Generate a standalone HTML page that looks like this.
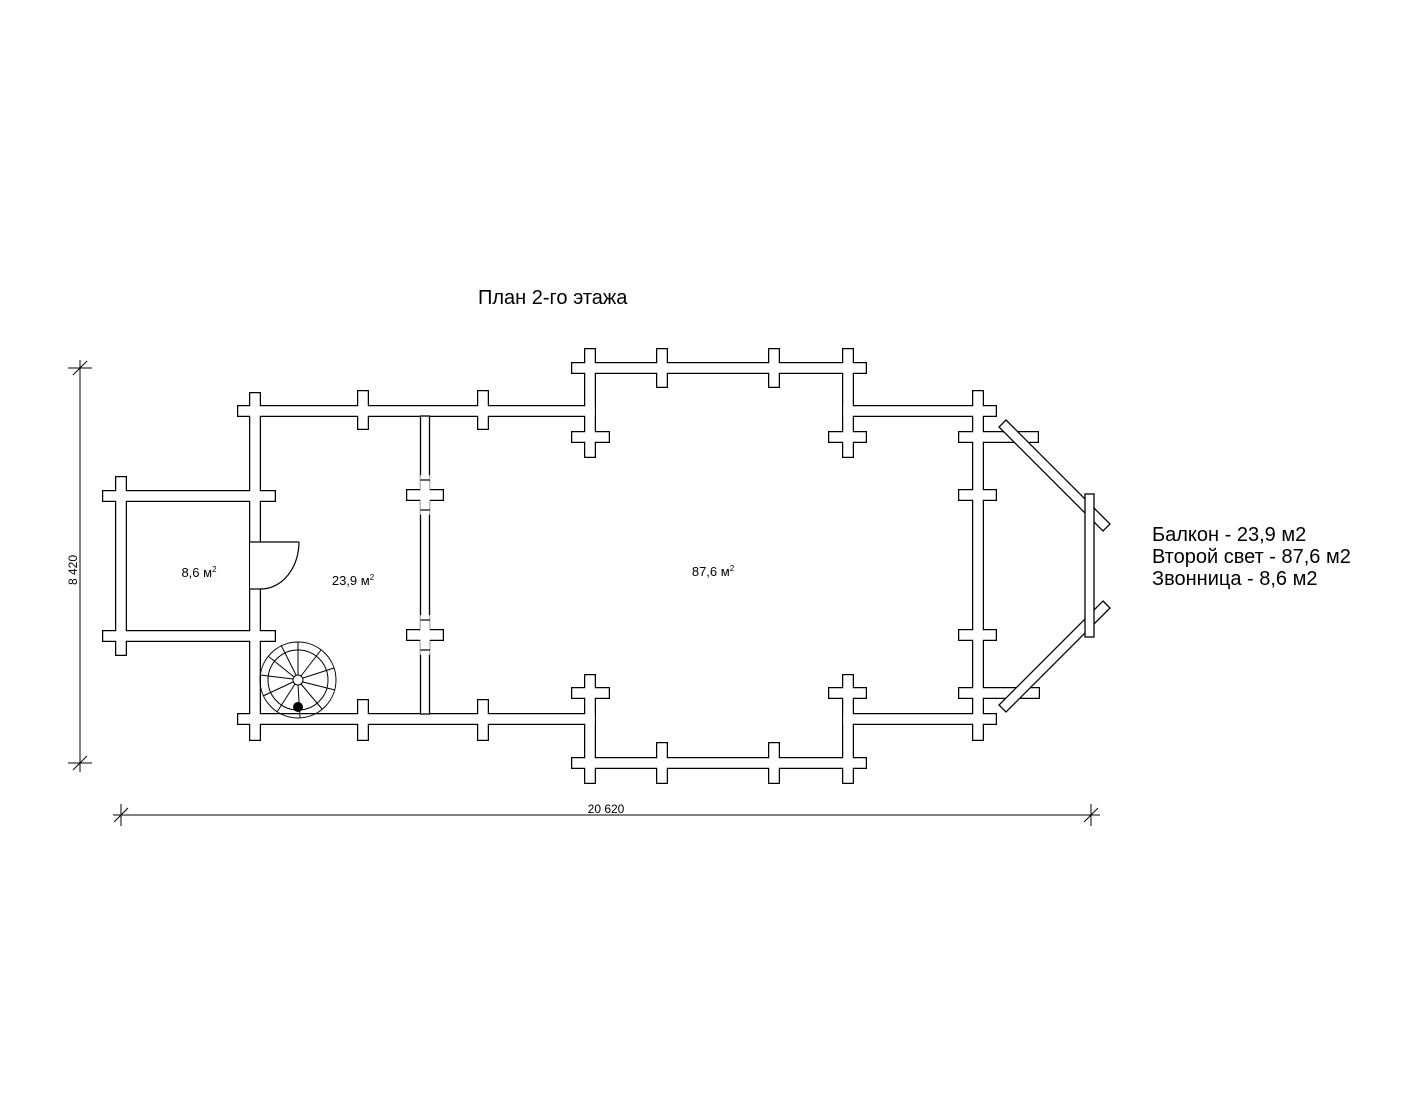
<!DOCTYPE html>
<html><head><meta charset="utf-8"><style>
html,body{margin:0;padding:0;background:#fff;}
svg{display:block;}
text{font-family:"Liberation Sans",sans-serif;fill:#000;}
</style></head><body>
<svg width="1422" height="1100" viewBox="0 0 1422 1100">
<defs>
<g id="walls">
 <line x1="243" y1="411" x2="590" y2="411"/>
 <line x1="243" y1="719" x2="590" y2="719"/>
 <line x1="255" y1="398" x2="255" y2="735"/>
 <line x1="363" y1="396" x2="363" y2="424"/>
 <line x1="483" y1="396" x2="483" y2="424"/>
 <line x1="363" y1="705" x2="363" y2="735"/>
 <line x1="483" y1="705" x2="483" y2="735"/>
 <line x1="108" y1="496" x2="270" y2="496"/>
 <line x1="108" y1="636" x2="270" y2="636"/>
 <line x1="121" y1="482" x2="121" y2="650"/>
 <line x1="577" y1="368" x2="861" y2="368"/>
 <line x1="590" y1="354" x2="590" y2="452"/>
 <line x1="848" y1="354" x2="848" y2="452"/>
 <line x1="662" y1="354" x2="662" y2="382"/>
 <line x1="774" y1="354" x2="774" y2="382"/>
 <line x1="577" y1="437" x2="604" y2="437"/>
 <line x1="834" y1="437" x2="861" y2="437"/>
 <line x1="577" y1="763" x2="861" y2="763"/>
 <line x1="590" y1="680" x2="590" y2="778"/>
 <line x1="848" y1="680" x2="848" y2="778"/>
 <line x1="662" y1="748" x2="662" y2="778"/>
 <line x1="774" y1="748" x2="774" y2="778"/>
 <line x1="577" y1="693" x2="604" y2="693"/>
 <line x1="834" y1="693" x2="861" y2="693"/>
 <line x1="848" y1="411" x2="991" y2="411"/>
 <line x1="848" y1="719" x2="991" y2="719"/>
 <line x1="978" y1="396" x2="978" y2="735"/>
 <line x1="964" y1="437" x2="1033" y2="437"/>
 <line x1="964" y1="495" x2="991" y2="495"/>
 <line x1="964" y1="635" x2="991" y2="635"/>
 <line x1="964" y1="693" x2="1034" y2="693"/>
</g>
</defs>
<g stroke="#000" stroke-width="12" stroke-linecap="square"><use href="#walls"/></g>
<g stroke="#fff" stroke-width="9.5" stroke-linecap="square"><use href="#walls"/></g>
<rect x="420.5" y="416" width="9" height="298" fill="#fff" stroke="#000" stroke-width="1.3"/>
<g stroke="#000" stroke-width="12" stroke-linecap="square"><line x1="412" y1="495" x2="438" y2="495"/><line x1="412" y1="635" x2="438" y2="635"/></g>
<g stroke="#fff" stroke-width="9.5" stroke-linecap="square"><line x1="412" y1="495" x2="438" y2="495"/><line x1="412" y1="635" x2="438" y2="635"/><line x1="425" y1="480" x2="425" y2="510"/><line x1="425" y1="620" x2="425" y2="650"/></g>
<g stroke="#000" stroke-width="1.2"><line x1="420.5" y1="480" x2="430" y2="480"/><line x1="420.5" y1="510" x2="430" y2="510"/><line x1="420.5" y1="620" x2="430" y2="620"/><line x1="420.5" y1="650" x2="430" y2="650"/></g>
<g fill="#fff" stroke="#000" stroke-width="1.3">
 <polygon points="1006,420 1110,524 1103,531 999,427" />
 <polygon points="1103,601 1110,608 1006,712 999,705" />
 <rect x="1085" y="494" width="9" height="143"/>
</g>
<rect x="250" y="542" width="12" height="47" fill="#fff"/>
<g fill="none" stroke="#000" stroke-width="1.2">
 <line x1="249" y1="542" x2="299" y2="542"/>
 <line x1="249" y1="589" x2="262" y2="589"/>
 <path d="M299,542 A38,47 0 0 1 261,589"/>
</g>
<g fill="none" stroke="#000" stroke-width="1">
 <circle cx="298" cy="680" r="38"/>
 <circle cx="298" cy="680" r="30"/>
 <circle cx="298" cy="680" r="5" fill="#fff"/>
 <line x1="298" y1="642" x2="298" y2="675"/>
 <line x1="321" y1="650" x2="301" y2="676"/>
 <line x1="334" y1="668" x2="303" y2="678"/>
 <line x1="335" y1="690" x2="303" y2="682"/>
 <line x1="322" y1="709" x2="301" y2="684"/>
 <line x1="300" y1="718" x2="298" y2="685"/>
 <line x1="277" y1="712" x2="295" y2="684"/>
 <line x1="263" y1="696" x2="293" y2="682"/>
 <line x1="260" y1="675" x2="293" y2="679"/>
 <line x1="268" y1="656" x2="294" y2="677"/>
 <line x1="281" y1="645" x2="296" y2="675"/>
</g>
<circle cx="298" cy="707" r="5" fill="#000"/>
<text x="199" y="577" font-size="13" text-anchor="middle">8,6 м<tspan font-size="8" dy="-5">2</tspan></text>
<text x="353" y="585" font-size="13" text-anchor="middle">23,9 м<tspan font-size="8" dy="-5">2</tspan></text>
<text x="713" y="576" font-size="13" text-anchor="middle">87,6 м<tspan font-size="8" dy="-5">2</tspan></text>
<text x="478" y="304" font-size="20">План 2-го этажа</text>
<text x="1152" y="541" font-size="20">Балкон - 23,9 м2</text>
<text x="1152" y="563" font-size="20">Второй свет - 87,6 м2</text>
<text x="1152" y="585" font-size="20">Звонница - 8,6 м2</text>
<g stroke="#000" stroke-width="1">
 <line x1="80" y1="360" x2="80" y2="772"/>
 <line x1="73" y1="375" x2="87" y2="361"/>
 <line x1="73" y1="770" x2="87" y2="756"/>
 <line x1="68" y1="368" x2="92" y2="368"/>
 <line x1="68" y1="763" x2="92" y2="763"/>
 <line x1="113" y1="815" x2="1100" y2="815"/>
 <line x1="114" y1="822" x2="128" y2="808"/>
 <line x1="1084" y1="822" x2="1098" y2="808"/>
 <line x1="121" y1="804" x2="121" y2="826"/>
 <line x1="1091" y1="804" x2="1091" y2="826"/>
</g>
<text x="77" y="570" font-size="12" text-anchor="middle" transform="rotate(-90 77 570)">8 420</text>
<text x="606" y="813" font-size="12" text-anchor="middle">20 620</text>
</svg>
</body></html>
